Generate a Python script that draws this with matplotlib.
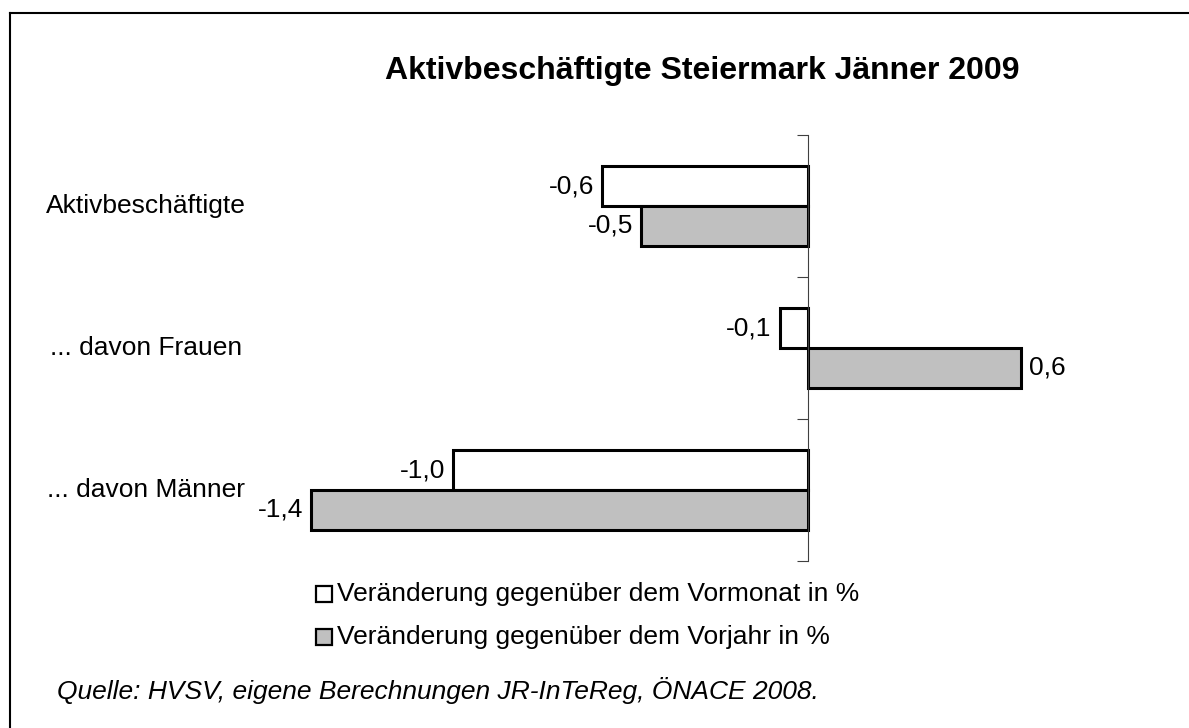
import matplotlib.pyplot as plt
from matplotlib.patches import Rectangle
from matplotlib.lines import Line2D
from matplotlib.transforms import blended_transform_factory
import numpy as np

plt.rcParams['font.family'] = ['Liberation Sans', 'DejaVu Sans']

kategorien = ['Aktivbeschäftigte', '... davon Frauen', '... davon Männer']
vormonat = [-0.58, -0.08, -1.0]
vorjahr = [-0.47, 0.6, -1.4]
serien = ['Veränderung gegenüber dem Vormonat in %',
          'Veränderung gegenüber dem Vorjahr in %']
farben = ['white', '#c0c0c0']

W, H = 1189, 728
fig = plt.figure(figsize=(W / 100, H / 100), dpi=100)

# Achsen in Pixelkoordinaten
x0, x1 = 275.5, 1092
y_top, y_bot = 135, 561
ax = fig.add_axes([x0 / W, 1 - y_bot / H, (x1 - x0) / W, (y_bot - y_top) / H])
ax.set_xlim(-1.5, 0.8)
ax.set_ylim(2.5, -0.5)

pos = np.arange(len(kategorien))
h = 0.28
b1 = ax.barh(pos - h / 2, vormonat, height=h, color=farben[0], edgecolor='black', linewidth=2.2)
b2 = ax.barh(pos + h / 2, vorjahr, height=h, color=farben[1], edgecolor='black', linewidth=2.2)

def fmt(v):
    return f'{v:.1f}'.replace('.', ',')

for bars, werte in [(b1, vormonat), (b2, vorjahr)]:
    for b, v in zip(bars, werte):
        y = b.get_y() + b.get_height() / 2
        if v < 0:
            ax.annotate(fmt(v), (v, y), xytext=(-8, 0), textcoords='offset pixels',
                        ha='right', va='center', fontsize=19)
        else:
            ax.annotate(fmt(v), (v, y), xytext=(8, 0), textcoords='offset pixels',
                        ha='left', va='center', fontsize=19)

for s in ['top', 'right', 'bottom']:
    ax.spines[s].set_visible(False)
ax.spines['left'].set_position(('data', 0))
ax.spines['left'].set_color('#404040')
ax.spines['left'].set_zorder(3)
ax.set_xticks([])
ax.set_yticks(np.arange(-0.5, len(kategorien), 1.0))
ax.set_yticklabels([])
ax.tick_params(axis='y', direction='out', length=8, color='#404040')

trans = blended_transform_factory(fig.transFigure, ax.transData)
for i, k in enumerate(kategorien):
    ax.text(146 / W, i, k, transform=trans, ha='center', va='center', fontsize=19)

fig.text(702 / W, 1 - 71 / H, 'Aktivbeschäftigte Steiermark Jänner 2009',
         ha='center', va='center', fontsize=23, fontweight='bold')

# Legende
for j, (name, c) in enumerate(zip(serien, farben)):
    yy = 1 - (594 + 43 * j) / H
    fig.patches.append(Rectangle((316 / W, yy - 8 / H), 16 / W, 16 / H, transform=fig.transFigure,
                                 facecolor=c, edgecolor='black', linewidth=1.6))
    fig.text(337 / W, yy, name, ha='left', va='center', fontsize=19)

fig.text(57 / W, 1 - 690 / H, 'Quelle: HVSV, eigene Berechnungen JR-InTeReg, ÖNACE 2008.',
         ha='left', va='center', fontsize=19, style='italic')

# Rahmen oben und links
fig.lines.append(Line2D([10 / W, 1], [1 - 13 / H, 1 - 13 / H], transform=fig.transFigure,
                        color='black', linewidth=1.5))
fig.lines.append(Line2D([10 / W, 10 / W], [1 - 13 / H, 0], transform=fig.transFigure,
                        color='black', linewidth=1.5))

fig.savefig('out.png', dpi=100)
